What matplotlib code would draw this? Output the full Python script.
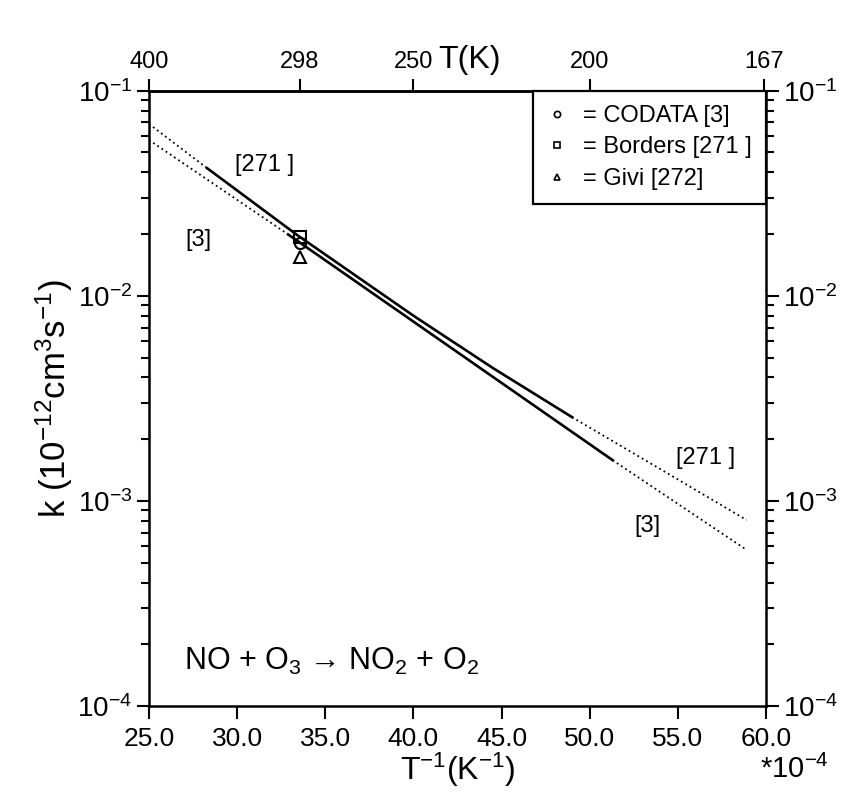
import matplotlib
matplotlib.use('Agg')
import matplotlib.pyplot as plt
from matplotlib.lines import Line2D
from matplotlib.ticker import LogLocator, NullFormatter, FormatStrFormatter

FONT = ['Liberation Sans', 'DejaVu Sans']
plt.rcParams['font.family'] = FONT
plt.rcParams['mathtext.fontset'] = 'custom'
plt.rcParams['mathtext.rm'] = 'Liberation Sans'
plt.rcParams['mathtext.it'] = 'Liberation Sans'
plt.rcParams['axes.linewidth'] = 1.8

# 1/T in units of 1e-4 K^-1, k in 1e-12 cm3 s-1
inv_T_3 = [25.0, 32.9, 51.3, 58.9]
k_3 = [0.0575, 0.0199, 0.00158, 0.000577]
solid_3 = (1, 2)          # index range of the measured (solid) part

inv_T_271 = [25.0, 28.3, 33.4, 40.0, 44.5, 49.0, 54.0, 58.9]
k_271 = [0.0689, 0.0419, 0.0198, 0.0080, 0.00445, 0.00256, 0.00143, 0.000807]
solid_271 = (1, 5)

T_point = 298.0
k_codata = 0.0180
k_borders = 0.0193
k_givi = 0.0155

top_T = [400, 298, 250, 200, 167]
x_ticks = [25.0, 30.0, 35.0, 40.0, 45.0, 50.0, 55.0, 60.0]

fig = plt.figure(figsize=(8.45, 7.93), dpi=100)
ax = fig.add_axes([0.1763, 0.1097, 0.7302, 0.7759])


def draw(xs, ks, solid):
    a, b = solid
    ax.plot(xs[:a + 1], ks[:a + 1], color='black', lw=1.3, ls=(0, (1, 1.8)))
    ax.plot(xs[a:b + 1], ks[a:b + 1], color='black', lw=1.9)
    ax.plot(xs[b:], ks[b:], color='black', lw=1.3, ls=(0, (1, 1.8)))


draw(inv_T_3, k_3, solid_3)
draw(inv_T_271, k_271, solid_271)

xp = 1e4 / T_point
ax.plot(xp, k_codata, marker='o', ms=8, mfc='none', mec='black', mew=1.5, ls='none')
ax.plot(xp, k_borders, marker='s', ms=9, mfc='none', mec='black', mew=1.5, ls='none')
ax.plot(xp, k_givi, marker='^', ms=9, mfc='none', mec='black', mew=1.5, ls='none')

ax.set_xlim(25, 60)
ax.set_yscale('log')
ax.set_ylim(1e-4, 1e-1)
ax.set_xticks(x_ticks)
ax.xaxis.set_major_formatter(FormatStrFormatter('%.1f'))
ax.yaxis.set_major_locator(LogLocator(base=10))
ax.yaxis.set_minor_locator(LogLocator(base=10, subs=range(2, 10)))
ax.yaxis.set_minor_formatter(NullFormatter())
ax.tick_params(axis='x', which='major', direction='out', length=9, width=1.5,
               labelsize=19, pad=6, top=False)
ax.tick_params(axis='y', which='major', direction='out', length=9, width=1.5,
               labelsize=20, pad=3, right=True, labelright=True)
ax.tick_params(axis='y', which='minor', direction='out', length=6, width=1.5,
               right=True)

ax.set_xlabel(r'T$^{-1}$(K$^{-1}$)', fontsize=23, labelpad=0)
ax.set_ylabel(r'k (10$^{-12}$cm$^{3}$s$^{-1}$)', fontsize=25, labelpad=2)

sec = ax.secondary_xaxis('top', functions=(lambda x: 1e4 / x, lambda t: 1e4 / t))
sec.set_xticks(top_T)
sec.set_xticklabels([str(t) for t in top_T])
sec.tick_params(direction='out', length=9, width=1.5, labelsize=17, pad=4)
fig.text(0.556, 0.905, 'T(K)', fontsize=23, ha='center', va='bottom')

ax.text(31.58, 0.0435, '[271 ]', fontsize=17, ha='center', va='center')
ax.text(27.78, 0.0187, '[3]', fontsize=17, ha='center', va='center')
ax.text(56.6, 0.00162, '[271 ]', fontsize=17, ha='center', va='center')
ax.text(53.25, 0.000753, '[3]', fontsize=17, ha='center', va='center')
ax.text(27.0, 1.64e-4, 'NO + O$_3$ → NO$_2$ + O$_2$', fontsize=22,
        ha='left', va='center')

handles = [
    Line2D([], [], marker='o', ms=4.5, mfc='none', mec='black', mew=1.2, ls='none'),
    Line2D([], [], marker='s', ms=4.5, mfc='none', mec='black', mew=1.2, ls='none'),
    Line2D([], [], marker='^', ms=4.5, mfc='none', mec='black', mew=1.2, ls='none'),
]
labels = ['= CODATA [3]', '= Borders [271 ]', '= Givi [272]']
leg = ax.legend(handles, labels, loc='upper right', borderaxespad=0,
                fontsize=17, handlelength=0.8, handletextpad=0.7,
                labelspacing=0.4, fancybox=False, framealpha=1,
                edgecolor='black', borderpad=0.6)
leg.get_frame().set_linewidth(1.6)

fig.text(0.94, 0.03, r'*10$^{-4}$', fontsize=21, ha='center', va='center')

fig.savefig('out.png', dpi=100)
